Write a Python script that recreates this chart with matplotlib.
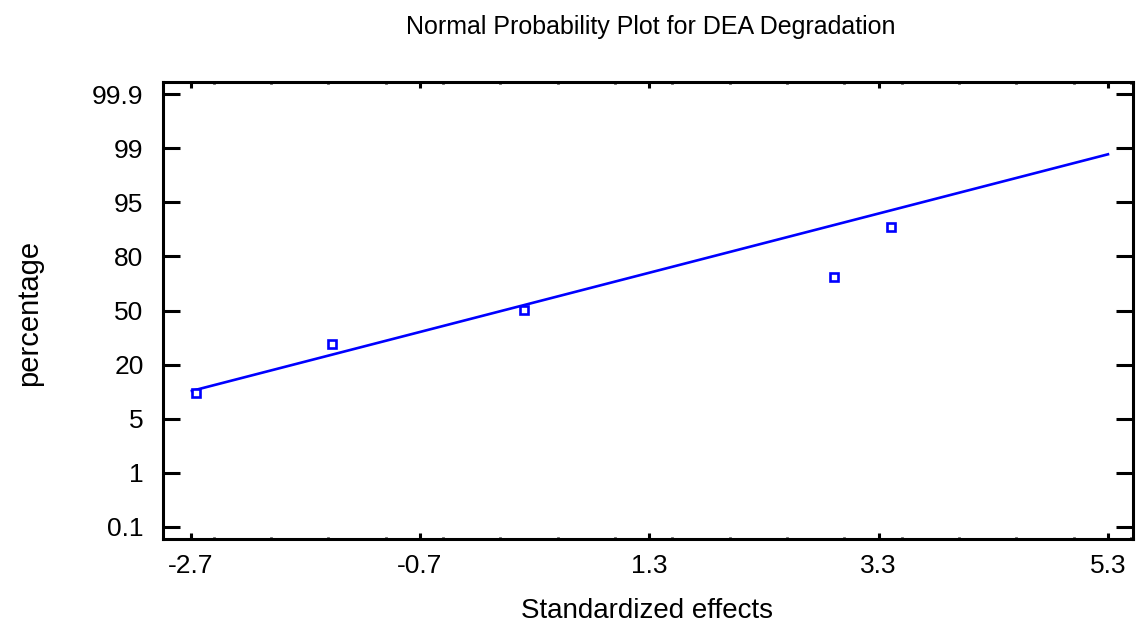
import numpy as np
import matplotlib
matplotlib.use("Agg")
import matplotlib.pyplot as plt
from matplotlib.ticker import FixedLocator, MultipleLocator

# probability axis labels (drawn equally spaced, as in the original)
prob_ticks = [0.1, 1, 5, 20, 50, 80, 95, 99, 99.9]
prob_labels = ["0.1", "1", "5", "20", "50", "80", "95", "99", "99.9"]

# standardized effects and their plotted percentages
effects = [-2.65, -1.47, 0.21, 2.91, 3.41]
percents = [12.0, 31.3, 50.1, 68.8, 88.2]

# reference line end points
line_x = [-2.69, 5.30]
line_p = [12.7, 98.56]

x_ticks = [-2.7, -0.7, 1.3, 3.3, 5.3]

# equally spaced probability scale, extended a little past the end labels
scale_p = [0.1 - 0.9] + prob_ticks + [99.9 + 0.9]
scale_v = np.arange(-1, len(prob_ticks) + 1)

def fwd(p):
    return np.interp(p, scale_p, scale_v)

def inv(v):
    return np.interp(v, scale_v, scale_p)

plt.rcParams['font.family'] = ['Liberation Sans', 'DejaVu Sans']

fig = plt.figure(figsize=(11.39, 6.23), dpi=100)
ax = fig.add_axes([0.1431, 0.1348, 0.8516, 0.7336])
ax.set_yscale('function', functions=(fwd, inv))

ax.plot(line_x, line_p, color='#0000ff', lw=1.9, zorder=2)
ax.plot(effects, percents, linestyle='none', marker='s', markersize=5.5,
        markerfacecolor='white', markeredgecolor='#0000ff', markeredgewidth=1.9, zorder=3)

ax.set_xlim(-2.942, 5.518)
ax.set_ylim(inv(-0.228), inv(8.228))

ax.yaxis.set_major_locator(FixedLocator(prob_ticks))
ax.set_yticklabels(prob_labels)
ax.yaxis.set_minor_locator(FixedLocator([]))
ax.xaxis.set_major_locator(FixedLocator(x_ticks))
ax.set_xticklabels([str(t) for t in x_ticks])
ax.xaxis.set_minor_locator(MultipleLocator(0.5))

for s in ax.spines.values():
    s.set_linewidth(2.2)

ax.tick_params(axis='y', which='major', direction='in', length=12, width=2.2,
               left=True, right=True, labelsize=19, pad=14)
ax.tick_params(axis='x', which='major', direction='in', length=4.5, width=2.2,
               top=True, bottom=True, labelsize=19, pad=11)
ax.tick_params(axis='x', which='minor', direction='in', length=1.5, width=2,
               top=True, bottom=True)

fig.text(0.5716, 0.9567, "Normal Probability Plot for DEA Degradation",
         fontsize=18, ha='center', va='center')
fig.text(0.568, 0.008, "Standardized effects", fontsize=20, ha='center', va='baseline')
fig.text(0.0255, 0.4976, "percentage", fontsize=21, rotation=90, ha='center', va='center')

fig.savefig("out.png", dpi=100)
